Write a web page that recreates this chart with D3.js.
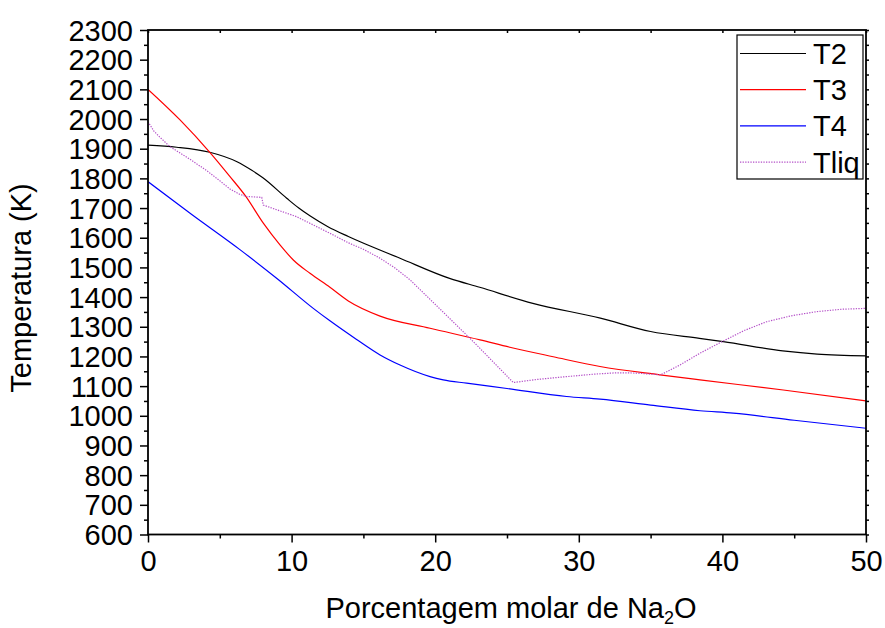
<!DOCTYPE html>
<html>
<head>
<meta charset="utf-8">
<script src="https://cdn.jsdelivr.net/npm/d3@7"></script>
<style>
  html, body { margin: 0; padding: 0; background: #fff; }
  svg { display: block; font-family: "Liberation Sans", Arial, sans-serif; }
</style>
</head>
<body>
<svg id="chart" width="885" height="628"></svg>
<script>
// ---- data ----
const t2X = [0, 2, 4.3, 6.2, 7.2, 8.0, 9.66, 10.5, 11.3, 12.5, 13.95, 17.55, 21.0, 23.1, 26.8, 31.5, 35.0, 38.4, 40.06, 44.2, 46.6, 50];
const t2Y = [1912, 1905, 1888, 1856, 1828, 1802, 1733, 1700, 1673, 1638, 1604, 1531, 1463, 1433, 1379, 1329, 1284, 1261, 1250, 1219, 1208, 1202];

const t3X = [0, 2.23, 4.32, 5.71, 6.8, 8.03, 9.19, 10.12, 11.28, 12.67, 13.95, 16.16, 19.64, 23.12, 25.2, 28.22, 31.48, 35.65, 38.44, 44.24, 50];
const t3Y = [2100, 1997, 1887, 1806, 1740, 1649, 1576, 1525, 1480, 1433, 1387, 1336, 1295, 1256, 1231, 1199, 1166, 1138, 1121, 1087, 1050];

const t4X = [0, 3, 6.4, 9, 11.51, 12.67, 14.5, 16.16, 17.55, 19.64, 20.56, 22.19, 25, 29.15, 31.48, 35, 38.44, 40.75, 45, 50];
const t4Y = [1789, 1680, 1560, 1462, 1362, 1320, 1258, 1205, 1171, 1132, 1121, 1110, 1092, 1065, 1056, 1036, 1017, 1009, 985, 958];

const tliqX = [0, 0.4, 0.84, 1.53, 3, 4.09, 5, 5.71, 6.4, 6.87, 7.92, 8.03, 10.35, 12.67, 13.95, 15, 16.16, 17.2, 18.25, 20.33, 22.42, 23.0, 25.44, 27, 29.15, 31, 32.64, 34, 35.7, 37, 38.44, 40.06, 41.5, 43.08, 44.8, 46.57, 48.3, 50];
const tliqY = [1991, 1960, 1938, 1907, 1862, 1826, 1792, 1764, 1746, 1739, 1736, 1710, 1671, 1615, 1583, 1561, 1531, 1498, 1458, 1360, 1261, 1233, 1112, 1122, 1132, 1140, 1145, 1144, 1138, 1170, 1211, 1252, 1287, 1317, 1337, 1351, 1359, 1362];

const seriesNames = ["T2", "T3", "T4", "Tliq"];
const xTicks = [0, 10, 20, 30, 40, 50];
const yTicks = d3.range(600, 2301, 100);

// ---- layout ----
const svg = d3.select("#chart");
const mLeft = 148, mRight = 866, mTop = 30, mBottom = 534.5;
const x = d3.scaleLinear().domain([0, 50]).range([mLeft, mRight]);
const y = d3.scaleLinear().domain([600, 2300]).range([mBottom, mTop]);
const font = 29;

const series = [
  {name: seriesNames[0], xs: t2X, ys: t2Y, color: "#000000", dash: null, curve: d3.curveMonotoneX, w: 1.2},
  {name: seriesNames[1], xs: t3X, ys: t3Y, color: "#ff0000", dash: null, curve: d3.curveMonotoneX, w: 1.2},
  {name: seriesNames[2], xs: t4X, ys: t4Y, color: "#0000ff", dash: null, curve: d3.curveMonotoneX, w: 1.2},
  {name: seriesNames[3], xs: tliqX, ys: tliqY, color: "#b450c8", dash: "1.3,1.3", curve: d3.curveLinear, w: 1.2}
];

svg.append("defs").append("clipPath").attr("id", "clip")
  .append("rect").attr("x", mLeft).attr("y", mTop).attr("width", mRight - mLeft).attr("height", mBottom - mTop);

const g = svg.append("g").attr("clip-path", "url(#clip)");
series.forEach(s => {
  const pts = s.xs.map((v, i) => [v, s.ys[i]]);
  const line = d3.line().x(d => x(d[0])).y(d => y(d[1])).curve(s.curve);
  g.append("path").datum(pts)
    .attr("d", line)
    .attr("fill", "none")
    .attr("stroke", s.color)
    .attr("stroke-width", s.w)
    .attr("stroke-dasharray", s.dash);
});

// ---- axes ----
const axisW = 1.8;
function styleAxis(sel) {
  sel.select(".domain").remove();
  sel.selectAll(".tick line").attr("stroke", "#000").attr("stroke-width", 1.5);
  sel.selectAll("text").attr("font-size", font).attr("fill", "#000")
     .attr("font-family", "'Liberation Sans', Arial, sans-serif");
}

const leftMinor = svg.append("g").attr("transform", `translate(${mLeft},0)`)
  .call(d3.axisLeft(y).tickValues(d3.range(650, 2300, 100)).tickSize(4).tickFormat(""));
styleAxis(leftMinor);
const leftAxis = svg.append("g").attr("transform", `translate(${mLeft},0)`)
  .call(d3.axisLeft(y).tickValues(yTicks).tickSize(8).tickPadding(7).tickFormat(d3.format("d")));
styleAxis(leftAxis);
leftAxis.selectAll("text").attr("dy", "0.35em");

const botMinor = svg.append("g").attr("transform", `translate(0,${mBottom})`)
  .call(d3.axisBottom(x).tickValues([5, 15, 25, 35, 45]).tickSize(4).tickFormat(""));
styleAxis(botMinor);
const botAxis = svg.append("g").attr("transform", `translate(0,${mBottom})`)
  .call(d3.axisBottom(x).tickValues(xTicks).tickSize(8).tickPadding(8).tickFormat(d3.format("d")));
styleAxis(botAxis);

const topAxis = svg.append("g").attr("transform", `translate(0,${mTop})`)
  .call(d3.axisBottom(x).tickValues(d3.range(0, 51, 5)).tickSize(3).tickFormat(""));
styleAxis(topAxis);

const rightAxis = svg.append("g").attr("transform", `translate(${mRight},0)`)
  .call(d3.axisRight(y).tickValues(d3.range(600, 2301, 50)).tickSize(3).tickFormat(""));
styleAxis(rightAxis);

svg.append("rect").attr("x", mLeft).attr("y", mTop).attr("width", mRight - mLeft).attr("height", mBottom - mTop)
  .attr("fill", "none").attr("stroke", "#000").attr("stroke-width", axisW);

// ---- titles ----
const xt = svg.append("text").attr("x", (mLeft + mRight) / 2 + 4).attr("y", 618)
  .attr("text-anchor", "middle").attr("font-size", font).attr("fill", "#000");
xt.append("tspan").text("Porcentagem molar de Na");
xt.append("tspan").attr("font-size", font * 0.62).attr("dy", 6).text("2");
xt.append("tspan").attr("dy", -6).text("O");

svg.append("text").attr("transform", `translate(31,288) rotate(-90)`)
  .attr("text-anchor", "middle").attr("font-size", font).attr("fill", "#000")
  .text("Temperatura (K)");

// ---- legend ----
const leg = svg.append("g");
leg.append("rect").attr("x", 737).attr("y", 35).attr("width", 126).attr("height", 144)
  .attr("fill", "#fff").attr("stroke", "#000").attr("stroke-width", 1.2);
series.forEach((s, i) => {
  const ly = 53.5 + i * 36.2;
  leg.append("line").attr("x1", 740).attr("x2", 806).attr("y1", ly).attr("y2", ly)
    .attr("stroke", s.color).attr("stroke-width", s.w).attr("stroke-dasharray", s.dash);
  leg.append("text").attr("x", 813).attr("y", ly + 10.5).attr("font-size", font).attr("fill", "#000")
    .text(s.name);
});
</script>
</body>
</html>
